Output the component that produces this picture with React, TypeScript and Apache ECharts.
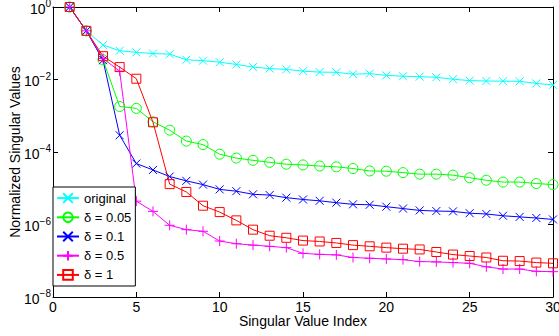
import React, { useEffect, useRef } from "react";
import * as echarts from "echarts";

const indices = [1, 2, 3, 4, 5, 6, 7, 8, 9, 10, 11, 12, 13, 14, 15, 16, 17, 18, 19, 20, 21, 22, 23, 24, 25, 26, 27, 28, 29, 30];

const originalVals = [1, 2.2e-1, 8.9e-2, 6.2e-2, 5.6e-2, 5.2e-2, 5.0e-2, 3.5e-2, 3.3e-2, 3.0e-2, 2.6e-2, 2.2e-2, 2.0e-2, 1.9e-2, 1.7e-2, 1.6e-2, 1.58e-2, 1.4e-2, 1.45e-2, 1.3e-2, 1.23e-2, 1.2e-2, 1.15e-2, 1.02e-2, 9.3e-3, 9.1e-3, 9.0e-3, 8.9e-3, 7.8e-3, 7.1e-3];
const delta005Vals = [1, 2.2e-1, 3.5e-2, 1.8e-3, 1.6e-3, 6.8e-4, 4.0e-4, 2.0e-4, 1.6e-4, 8.7e-5, 6.8e-5, 5.9e-5, 5.2e-5, 4.6e-5, 4.4e-5, 4.1e-5, 3.9e-5, 3.5e-5, 3.0e-5, 2.95e-5, 2.7e-5, 2.45e-5, 2.45e-5, 2.3e-5, 1.95e-5, 1.66e-5, 1.48e-5, 1.48e-5, 1.35e-5, 1.26e-5];
const delta01Vals = [1, 2.2e-1, 3.4e-2, 2.9e-4, 4.8e-5, 3.2e-5, 2.1e-5, 1.6e-5, 1.26e-5, 9.3e-6, 8.3e-6, 6.8e-6, 6.5e-6, 5.5e-6, 4.9e-6, 4.5e-6, 4.0e-6, 3.6e-6, 3.5e-6, 3.1e-6, 2.75e-6, 2.45e-6, 2.35e-6, 2.3e-6, 2.05e-6, 1.95e-6, 1.74e-6, 1.62e-6, 1.51e-6, 1.38e-6];
const delta05Vals = [1, 2.2e-1, 3.8e-2, 1.7e-2, 4.4e-6, 2.3e-6, 9.5e-7, 7.2e-7, 6.5e-7, 3.5e-7, 2.95e-7, 2.7e-7, 2.5e-7, 2.3e-7, 1.6e-7, 1.5e-7, 1.45e-7, 1.23e-7, 1.17e-7, 1.12e-7, 1.07e-7, 9.5e-8, 9.3e-8, 8.9e-8, 8.5e-8, 6.8e-8, 5.9e-8, 5.9e-8, 5.1e-8, 5.0e-8];
const delta1Vals = [1, 2.2e-1, 4.4e-2, 2.2e-2, 1.05e-2, 6.6e-4, 1.3e-5, 7.9e-6, 3.3e-6, 2.2e-6, 1.3e-6, 7.2e-7, 4.9e-7, 4.3e-7, 3.6e-7, 3.4e-7, 3.1e-7, 2.7e-7, 2.5e-7, 2.3e-7, 2.15e-7, 2.05e-7, 1.74e-7, 1.48e-7, 1.35e-7, 1.23e-7, 1.0e-7, 9.8e-8, 8.9e-8, 8.5e-8];

const seriesNames = ["original", "δ = 0.05", "δ = 0.1", "δ = 0.5", "δ = 1"];
const xTickValues = [0, 5, 10, 15, 20, 25, 30];
const yTickExponents = [0, -2, -4, -6, -8];

const FONT = "'Liberation Sans', Arial, Helvetica, sans-serif";
const CROSS = "path://M0,0L10,10M10,0L0,10";
const PLUS = "path://M5,0L5,10M0,5L10,5";

export default function App() {
  const ref = useRef<HTMLDivElement>(null);

  useEffect(() => {
    if (!ref.current) return;
    const chart = echarts.init(ref.current, null, { renderer: "svg" });

    const pair = (vals: number[]) => indices.map((x, i) => [x, vals[i]]);

    const mk = (name: string, vals: number[], color: string, symbol: string, size: number) => ({
      name,
      type: "line",
      data: pair(vals),
      symbol,
      symbolSize: size,
      showAllSymbol: true,
      lineStyle: { color, width: 1 },
      itemStyle: { color: "transparent", borderColor: color, borderWidth: 1 },
      emphasis: { disabled: true },
      z: 2,
    });

    const yLabelFmt = (v: number) => {
      const e = Math.round(Math.log10(v));
      return "{b|10}{s|" + (e === 0 ? "0" : "\u2212" + Math.abs(e)) + "}";
    };

    chart.setOption({
      animation: false,
      backgroundColor: "#fff",
      textStyle: { fontFamily: FONT },
      grid: { left: 53, right: 6, top: 7, bottom: 39, containLabel: false, outerBoundsMode: "none" },
      legend: {
        orient: "vertical",
        left: 53,
        top: 187,
        data: seriesNames,
        itemWidth: 22,
        itemHeight: 12,
        itemGap: 6.2,
        padding: [4.6, 4, 4.6, 3],
        borderColor: "#000",
        borderWidth: 1,
        backgroundColor: "#fff",
        textStyle: { fontFamily: FONT, fontSize: 13, color: "#000" },
        selectedMode: false,
      },
      xAxis: [
        {
          type: "value",
          min: xTickValues[0],
          max: xTickValues[xTickValues.length - 1],
          interval: 5,
          name: "Singular Value Index",
          nameLocation: "middle",
          nameGap: 17,
          nameMoveOverlap: false,
          nameTextStyle: { fontFamily: FONT, fontSize: 14, color: "#000", verticalAlign: "top", lineHeight: 14 },
          axisLine: { onZero: false, lineStyle: { color: "#000", width: 1 } },
          axisTick: { inside: true, length: 5, lineStyle: { color: "#000" } },
          axisLabel: { fontFamily: FONT, fontSize: 14, color: "#000", margin: 4, lineHeight: 12 },
          splitLine: { show: false },
        },
        {
          type: "value",
          position: "top",
          min: xTickValues[0],
          max: xTickValues[xTickValues.length - 1],
          interval: 5,
          axisLine: { onZero: false, lineStyle: { color: "#000", width: 1 } },
          axisTick: { inside: true, length: 5, lineStyle: { color: "#000" } },
          axisLabel: { show: false },
          splitLine: { show: false },
        },
      ],
      yAxis: [
        {
          type: "log",
          logBase: 10,
          min: Math.pow(10, yTickExponents[yTickExponents.length - 1]),
          max: Math.pow(10, yTickExponents[0]),
          interval: 2,
          name: "Normalized Singular Values",
          nameLocation: "middle",
          nameGap: 31,
          nameMoveOverlap: false,
          nameTextStyle: { fontFamily: FONT, fontSize: 14, color: "#000" },
          axisLine: { onZero: false, lineStyle: { color: "#000", width: 1 } },
          axisTick: { inside: true, length: 5, lineStyle: { color: "#000" } },
          axisLabel: {
            margin: 2,
            formatter: yLabelFmt,
            rich: {
              b: { fontFamily: FONT, fontSize: 14, color: "#000", lineHeight: 17, verticalAlign: "bottom" },
              s: { fontFamily: FONT, fontSize: 10, color: "#000", lineHeight: 11, verticalAlign: "top" },
            },
          },
          splitLine: { show: false },
          minorTick: { show: false },
        },
        {
          type: "log",
          logBase: 10,
          position: "right",
          min: Math.pow(10, yTickExponents[yTickExponents.length - 1]),
          max: Math.pow(10, yTickExponents[0]),
          interval: 2,
          axisLine: { onZero: false, lineStyle: { color: "#000", width: 1 } },
          axisTick: { inside: true, length: 5, lineStyle: { color: "#000" } },
          axisLabel: { show: false },
          splitLine: { show: false },
        },
      ],
      series: [
        mk(seriesNames[0], originalVals, "#00ffff", CROSS, 8),
        mk(seriesNames[1], delta005Vals, "#00ff00", "circle", 10),
        mk(seriesNames[2], delta01Vals, "#0000ff", CROSS, 8),
        mk(seriesNames[3], delta05Vals, "#ff00ff", PLUS, 10),
        mk(seriesNames[4], delta1Vals, "#ff0000", "rect", 9),
      ],
    });

    return () => chart.dispose();
  }, []);

  return (
    <div
      ref={ref}
      style={{ position: "fixed", left: 0, top: 0, width: 559, height: 336, background: "#fff" }}
    />
  );
}
